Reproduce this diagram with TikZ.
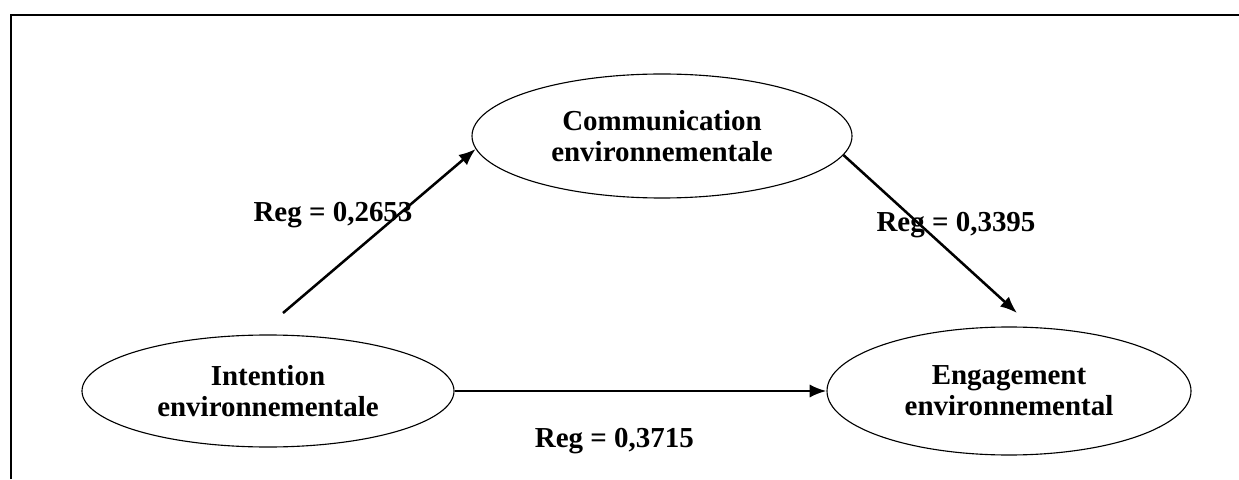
\documentclass[tikz,border=0pt]{standalone}
\usepackage{fontspec}
\setmainfont{Liberation Serif}
\usetikzlibrary{shapes.geometric,arrows.meta}

\begin{document}
\begin{tikzpicture}[
        >= {Latex[length=12pt,width=9.5pt]},
        var/.style = {ellipse, draw, line width=0.8pt, align=center,
                      font=\bfseries\fontsize{20.6}{22}\selectfont},
        reg/.style = {anchor=base, font=\bfseries\fontsize{20.6}{22}\selectfont},
        link/.style = {->, line width=1.8pt}
    ]
        \useasboundingbox (0,0) rectangle (30.975,11.975);
        % frame
        \draw [line width=1.6pt] (0.275,0)--(0.275,11.6)--(30.975,11.6);
        % variables
        \node [var, minimum width=9.3cm, minimum height=2.8cm] (intent) at (6.7,2.2) {Intention\\environnementale};
        \node [var, minimum width=9.5cm, minimum height=3.1cm] (comm) at (16.55,8.575) {Communication\\environnementale};
        \node [var, minimum width=9.1cm, minimum height=3.2cm] (engage) at (25.225,2.2) {Engagement\\environnemental};
        % paths
        \coordinate (start1) at (7.075,4.15);
        \coordinate (end2) at (25.425,4.15);
        \draw [link] (start1)--(comm.184);
        \draw [link] (comm.354)--(end2);
        \draw [link] (intent)--(engage);
        % coefficients
        \node [reg] (reg1) at (8.325,6.425) {Reg = 0,2653};
        \node [reg] (reg2) at (23.9,6.175) {Reg = 0,3395};
        \node [reg] (reg3) at (15.36,0.8) {Reg = 0,3715};
\end{tikzpicture}
\end{document}
